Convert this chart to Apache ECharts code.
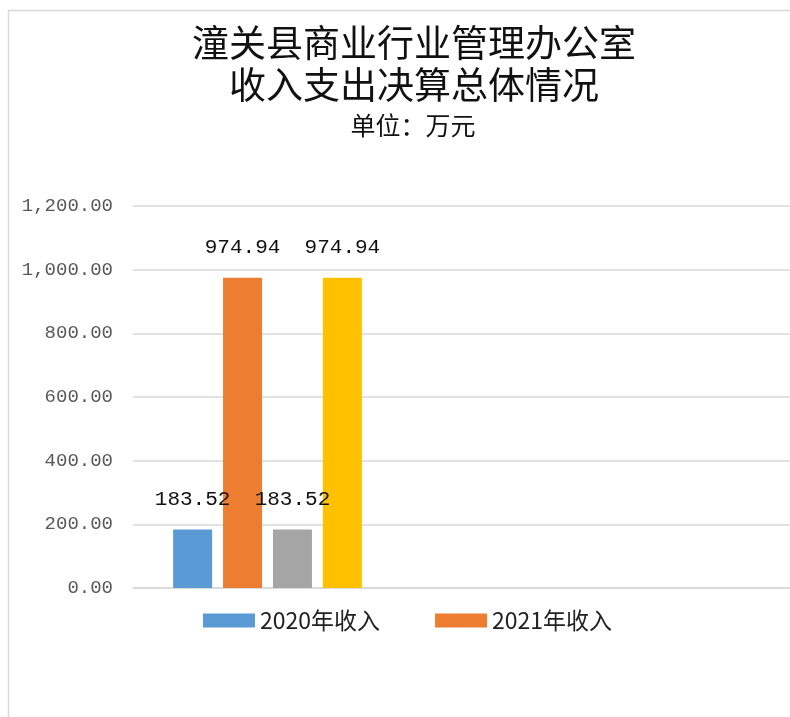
<!DOCTYPE html>
<html>
<head>
<meta charset="utf-8">
<script src="https://cdn.jsdelivr.net/npm/echarts@6/dist/echarts.min.js"></script>
<style>
  html, body { margin: 0; padding: 0; background: #fff; }
  #chart { width: 790px; height: 717px; }
</style>
</head>
<body>
<div id="chart"></div>
<script>
/* ===== 数据 ===== */
const categories = ["合计", "", ""];
const seriesNames = ["2020年收入", "2021年收入", "2020年支出", "2021年支出"];
const income2020 = [183.52, null, null];
const income2021 = [974.94, null, null];
const expense2020 = [183.52, null, null];
const expense2021 = [974.94, null, null];
const legendNames = ["2020年收入", "2021年收入"];
const yTicks = { min: 0, max: 1200, interval: 200 };

const colors = ["#5B9BD5", "#ED7D31", "#A5A5A5", "#FFC000"];
const cjk = "'Noto Sans CJK SC', sans-serif";
const mono = "'Liberation Mono', 'DejaVu Sans Mono', monospace";

const fmt = (v) =>
  v.toLocaleString("en-US", { minimumFractionDigits: 2, maximumFractionDigits: 2 });

const chart = echarts.init(document.getElementById("chart"));

const barLabel = {
  show: true,
  position: "top",
  distance: 20,
  fontFamily: mono,
  fontSize: 21,
  color: "#111",
  formatter: (p) => fmt(p.value),
};

const allData = [income2020, income2021, expense2020, expense2021];

chart.setOption({
  animation: false,
  color: colors,
  title: [
    {
      text: "潼关县商业行业管理办公室\n收入支出决算总体情况",
      left: 414,
      top: 22,
      padding: 0,
      textAlign: "center",
      textStyle: {
        fontFamily: cjk,
        fontSize: 37,
        lineHeight: 42,
        fontWeight: "normal",
        color: "#111",
      },
    },
    {
      text: "单位：万元",
      left: 413,
      top: 113,
      padding: 0,
      textAlign: "center",
      textStyle: {
        fontFamily: cjk,
        fontSize: 25,
        fontWeight: "normal",
        color: "#111",
      },
    },
  ],
  legend: {
    data: legendNames,
    left: 198,
    top: 604,
    itemWidth: 52,
    itemHeight: 14,
    itemGap: 55,
    icon: "rect",
    textStyle: { fontFamily: cjk, fontSize: 23, color: "#222" },
  },
  grid: {
    left: 133,
    right: -150,
    top: 206,
    bottom: 129,
    outerBoundsMode: "none",
  },
  xAxis: {
    type: "category",
    data: categories,
    axisLine: { lineStyle: { color: "#d9d9d9", width: 1.5 } },
    axisTick: { show: false },
    axisLabel: { show: false },
  },
  yAxis: {
    type: "value",
    min: yTicks.min,
    max: yTicks.max,
    interval: yTicks.interval,
    axisLine: { show: false },
    axisTick: { show: false },
    axisLabel: {
      margin: 20,
      fontFamily: mono,
      fontSize: 19,
      color: "#595959",
      formatter: (v) => fmt(v),
    },
    splitLine: { lineStyle: { color: "#d9d9d9", width: 1.5 } },
  },
  series: seriesNames.map((name, i) => ({
    name,
    type: "bar",
    data: allData[i],
    barWidth: 39,
    barGap: "28%",
    label: barLabel,
  })),
  graphic: [
    {
      type: "rect",
      shape: { x: 8.5, y: 10.5, width: 900, height: 800 },
      style: { fill: "none", stroke: "#d9d9d9", lineWidth: 1.5 },
      silent: true,
    },
  ],
});
</script>
</body>
</html>
